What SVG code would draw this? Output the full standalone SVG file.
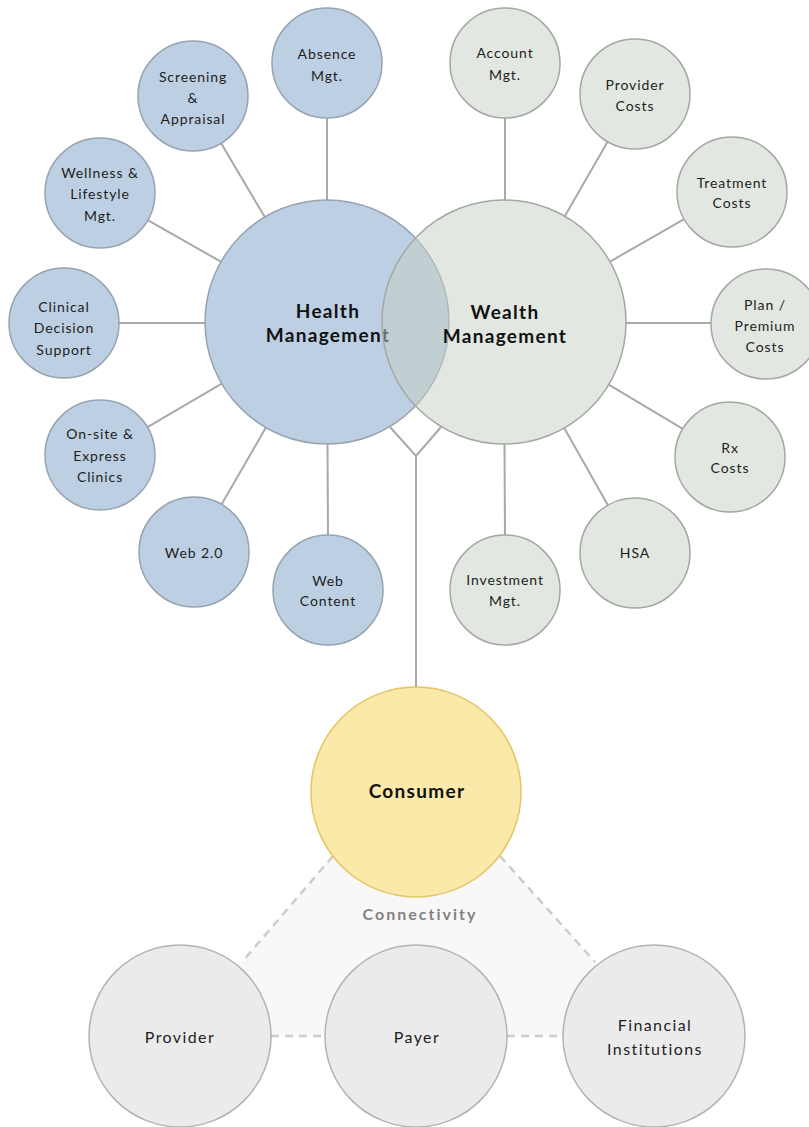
<svg xmlns="http://www.w3.org/2000/svg" width="809" height="1127" viewBox="0 0 809 1127">
<style>
.bg{fill:#ffffff}
.blue{fill:#bdcfe2;stroke:#97a3b0;stroke-width:1.5}
.grey{fill:#e2e7e1;stroke:#a3a8a3;stroke-width:1.5}
.big-w{fill:#c5cfc3;fill-opacity:0.5;stroke:#a3a8a3;stroke-width:1.5}
.cons{fill:#fbe9aa;stroke:#e3c565;stroke-width:1.5}
.part{fill:#ebebeb;stroke:#b3b3b3;stroke-width:1.5}
.ln{stroke:#a9a9a9;stroke-width:2;fill:none}
.dash{stroke:#cccccc;stroke-width:2.5;stroke-dasharray:8 6;fill:none}
.t{font-family:Lato,"Open Sans","Liberation Sans",sans-serif;font-size:14px;fill:#1e1e1e;text-anchor:middle;letter-spacing:0.9px}
.tb{font-family:Lato,"Open Sans","Liberation Sans",sans-serif;font-size:19px;font-weight:bold;fill:#111;text-anchor:middle;letter-spacing:1.3px}
.tp{font-family:Lato,"Open Sans","Liberation Sans",sans-serif;font-size:16px;fill:#1e1e1e;text-anchor:middle;letter-spacing:1.4px}
.tc{font-family:Lato,"Open Sans","Liberation Sans",sans-serif;font-size:16px;font-weight:bold;fill:#828282;text-anchor:middle;letter-spacing:2px}
</style>
<rect class="bg" x="0" y="0" width="809" height="1127"/>
<polygon id="connectivity-area" points="333,856 500,856 595,962 654,1036 180,1036 242,962" fill="#f8f8f8"/>
<g id="connectors">
  <line class="ln" x1="327" y1="200" x2="327" y2="118"/>
  <line class="ln" x1="264.8" y1="217.1" x2="221.1" y2="143.3"/>
  <line class="ln" x1="220.9" y1="261.7" x2="147.8" y2="220.2"/>
  <line class="ln" x1="205" y1="323" x2="119" y2="323"/>
  <line class="ln" x1="221.7" y1="383.7" x2="147.5" y2="427.2"/>
  <line class="ln" x1="265.9" y1="427.6" x2="221.5" y2="504.4"/>
  <line class="ln" x1="327.5" y1="444" x2="328" y2="535"/>
  <line class="ln" x1="505" y1="200" x2="505" y2="118"/>
  <line class="ln" x1="564.8" y1="216.2" x2="607.6" y2="141.7"/>
  <line class="ln" x1="610" y1="261.6" x2="684.2" y2="219.2"/>
  <line class="ln" x1="626" y1="323" x2="711" y2="323"/>
  <line class="ln" x1="608.7" y1="384.6" x2="682.8" y2="428.8"/>
  <line class="ln" x1="564.2" y1="428.1" x2="607.9" y2="505.2"/>
  <line class="ln" x1="504.5" y1="444" x2="505" y2="535"/>
  <polyline class="ln" points="390,427 416,456 441,427"/>
  <line class="ln" x1="416" y1="456" x2="416" y2="688"/>
  <line class="dash" x1="333" y1="856" x2="242" y2="962"/>
  <line class="dash" x1="500" y1="856" x2="595" y2="962"/>
  <line class="dash" x1="271" y1="1036" x2="325" y2="1036"/>
  <line class="dash" x1="507" y1="1036" x2="563" y2="1036"/>
</g>
<g id="health">
  <circle class="blue" cx="327" cy="322" r="122"/>
  <text class="tb" x="328" y="318">Health</text>
  <text class="tb" x="328" y="342">Management</text>
</g>
<g id="wealth">
  <circle class="big-w" cx="504" cy="322" r="122"/>
  <text class="tb" x="505" y="319">Wealth</text>
  <text class="tb" x="505" y="343">Management</text>
</g>
<g id="absence"><circle class="blue" cx="327" cy="63" r="55"/><text class="t" x="327" y="59">Absence</text><text class="t" x="327" y="81">Mgt.</text></g>
<g id="screening"><circle class="blue" cx="193" cy="96" r="55"/><text class="t" x="193" y="82">Screening</text><text class="t" x="193" y="103">&amp;</text><text class="t" x="193" y="124">Appraisal</text></g>
<g id="wellness"><circle class="blue" cx="100" cy="193" r="55"/><text class="t" x="100" y="178">Wellness &amp;</text><text class="t" x="100" y="199">Lifestyle</text><text class="t" x="100" y="221">Mgt.</text></g>
<g id="clinical"><circle class="blue" cx="64" cy="323" r="55"/><text class="t" x="64" y="312">Clinical</text><text class="t" x="64" y="333">Decision</text><text class="t" x="64" y="355">Support</text></g>
<g id="onsite"><circle class="blue" cx="100" cy="455" r="55"/><text class="t" x="100" y="439">On-site &amp;</text><text class="t" x="100" y="461">Express</text><text class="t" x="100" y="482">Clinics</text></g>
<g id="web20"><circle class="blue" cx="194" cy="552" r="55"/><text class="t" x="194" y="558">Web 2.0</text></g>
<g id="webcontent"><circle class="blue" cx="328" cy="590" r="55"/><text class="t" x="328" y="586">Web</text><text class="t" x="328" y="606">Content</text></g>
<g id="account"><circle class="grey" cx="505" cy="63" r="55"/><text class="t" x="505" y="58">Account</text><text class="t" x="505" y="80">Mgt.</text></g>
<g id="providercosts"><circle class="grey" cx="635" cy="94" r="55"/><text class="t" x="635" y="90">Provider</text><text class="t" x="635" y="111">Costs</text></g>
<g id="treatment"><circle class="grey" cx="732" cy="192" r="55"/><text class="t" x="732" y="188">Treatment</text><text class="t" x="732" y="208">Costs</text></g>
<g id="plan"><circle class="grey" cx="766" cy="324" r="55"/><text class="t" x="765" y="310">Plan /</text><text class="t" x="765" y="331">Premium</text><text class="t" x="765" y="352">Costs</text></g>
<g id="rx"><circle class="grey" cx="730" cy="457" r="55"/><text class="t" x="730" y="453">Rx</text><text class="t" x="730" y="473">Costs</text></g>
<g id="hsa"><circle class="grey" cx="635" cy="553" r="55"/><text class="t" x="635" y="558">HSA</text></g>
<g id="investment"><circle class="grey" cx="505" cy="590" r="55"/><text class="t" x="505" y="585">Investment</text><text class="t" x="505" y="606">Mgt.</text></g>
<g id="consumer"><circle class="cons" cx="416" cy="792" r="105"/><text class="tb" x="417" y="798">Consumer</text></g>
<text class="tc" x="420" y="920">Connectivity</text>
<g id="provider"><circle class="part" cx="180" cy="1036" r="91"/><text class="tp" x="180" y="1043">Provider</text></g>
<g id="payer"><circle class="part" cx="416" cy="1036" r="91"/><text class="tp" x="417" y="1043">Payer</text></g>
<g id="financial"><circle class="part" cx="654" cy="1036" r="91"/><text class="tp" x="655" y="1031">Financial</text><text class="tp" x="655" y="1055">Institutions</text></g>
</svg>
